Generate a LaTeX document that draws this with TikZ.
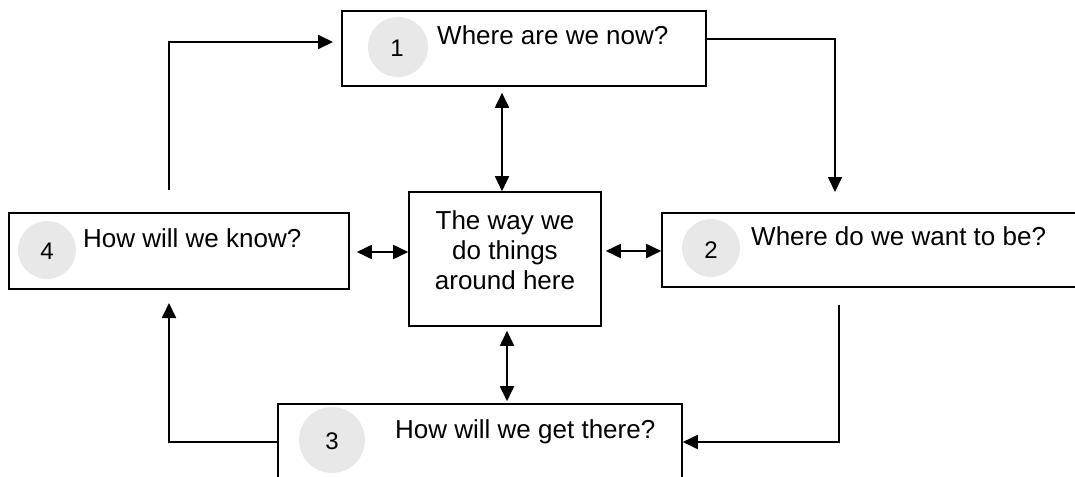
\documentclass[tikz,border=0pt]{standalone}
\usepackage{fontspec}
\setmainfont{Liberation Sans}
\usetikzlibrary{arrows.meta}
\definecolor{badge}{HTML}{E8E8E8}
\tikzset{
  box/.style={draw=black, line width=1.6pt, fill=white, inner sep=0pt},
  badgecirc/.style={circle, fill=badge, inner sep=0pt, minimum size=#1},
  numtxt/.style={font=\fontsize{24}{28}\selectfont, inner sep=0pt},
  qtxt/.style={font=\fontsize{26}{30}\selectfont, inner sep=0pt, anchor=base west},
  flow/.style={line width=1.8pt, -{Triangle[length=15pt,width=14pt]}},
  dflow/.style={line width=1.8pt, {Triangle[length=15pt,width=14pt]}-{Triangle[length=15pt,width=14pt]}},
}
\begin{document}
\begin{tikzpicture}[x=1pt,y=-1pt]
\useasboundingbox (0,0) rectangle (1075,476);
\clip (0,0) rectangle (1075,476);

% the five boxes
\node[box, minimum width=364pt, minimum height=75pt] (b1) at (524,48.5) {};
\node[box, minimum width=192pt, minimum height=134pt] (bc) at (505,259) {};
\node[box, minimum width=340pt, minimum height=76pt] (b4) at (179,251) {};
\node[box, minimum width=430pt, minimum height=74pt] (b2) at (877,250) {};
\node[box, minimum width=404pt, minimum height=100pt] (b3) at (480,454) {};

% numbered badges
\node[badgecirc=60pt] (c1) at (398,47) {};
\node[badgecirc=58pt] (c4) at (47,250) {};
\node[badgecirc=58pt] (c2) at (711,248) {};
\node[badgecirc=66pt] (c3) at (332,440) {};
\node[numtxt] (n1) at (397,48) {1};
\node[numtxt] (n4) at (47,251) {4};
\node[numtxt] (n2) at (711,250) {2};
\node[numtxt] (n3) at (332,441) {3};

% questions
\node[qtxt] (q1) at (437,45) {Where are we now?};
\node[qtxt] (q4) at (83,247) {How will we know?};
\node[qtxt] (q2) at (751,245) {Where do we want to be?};
\node[qtxt] (q3) at (395,438) {How will we get there?};
\node[font=\fontsize{26}{30}\selectfont, align=center, inner sep=0pt] (qc) at (505,250)
  {The way we\\do things\\around here};

% free ends of the cycle arrows
\coordinate (s41) at (169,190);
\coordinate (e41) at (333,42);
\coordinate (e12) at (835,192);
\coordinate (s23) at (839,305);
\coordinate (e34) at (169,303);

% cycle 1 -> 2 -> 3 -> 4 -> 1
\draw[flow] (b1.east |- 0,39) -| (e12);
\draw[flow] (s23) |- (b3.east |- 0,442);
\draw[flow] (b3.west |- 0,442) -| (e34);
\draw[flow] (s41) |- (e41);

% links to the centre
\draw[dflow, shorten <=6pt] (b1.south -| 502,0) -- (bc.north -| 502,0);
\draw[dflow, shorten <=4pt, shorten >=2pt] (bc.south -| 507,0) -- (b3.north -| 507,0);
\draw[dflow, shorten <=7pt] (b4.east |- 0,252) -- (bc.west |- 0,252);
\draw[dflow, shorten <=4pt] (bc.east |- 0,251) -- (b2.west |- 0,251);
\end{tikzpicture}
\end{document}
